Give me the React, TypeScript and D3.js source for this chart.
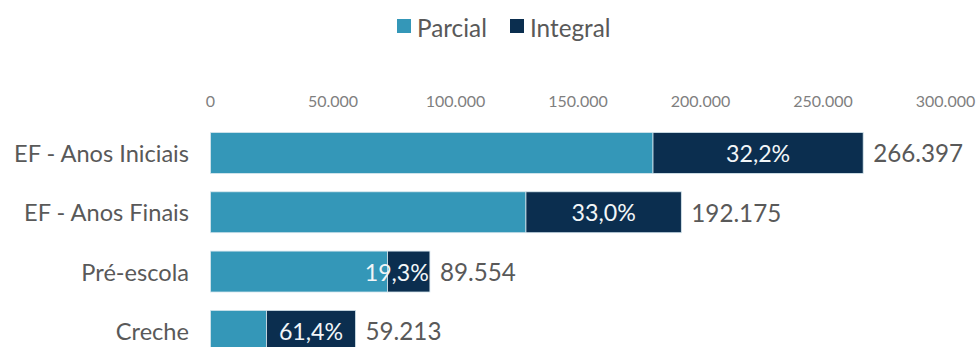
import React from "react";
import * as d3 from "d3";

const categories = ["EF - Anos Iniciais", "EF - Anos Finais", "Pré-escola", "Creche"];
const parcial = [180617, 128757, 72270, 22856];
const integral = [85780, 63418, 17284, 36357];
const tickValues = [0, 50000, 100000, 150000, 200000, 250000, 300000];
const seriesNames = ["Parcial", "Integral"];
const colors = ["#3497b8", "#0b2e4f"];

const fmtInt = (v: number) => d3.format(",")(v).replace(/,/g, ".");
const fmtPct = (v: number) => d3.format(".1%")(v).replace(".", ",");

export default function App() {
  const W = 980, H = 347;
  const x = d3.scaleLinear().domain([0, 300000]).range([210.5, 945.5]);
  const y = d3
    .scaleBand<string>()
    .domain(categories)
    .range([123.3, 123.3 + 4 * 59.3])
    .paddingInner(0.31)
    .paddingOuter(0.155);
  const bw = y.bandwidth();
  const font = "Lato, 'Open Sans', sans-serif";
  const fs = 23.6;

  return (
    <svg
      width={W}
      height={H}
      style={{ position: "absolute", left: 0, top: 0, background: "#fff" }}
      fontFamily={font}
    >
      {/* legend */}
      <g>
        <rect x={397} y={19} width={14} height={14} fill={colors[0]} />
        <text x={417} y={27} dominantBaseline="central" fontSize={24.3} fill="#595959">
          {seriesNames[0]}
        </text>
        <rect x={510} y={19} width={14} height={14} fill={colors[1]} />
        <text x={530} y={27} dominantBaseline="central" fontSize={24.3} fill="#595959">
          {seriesNames[1]}
        </text>
      </g>
      {/* ticks */}
      {tickValues.map((t) => (
        <text
          key={t}
          x={x(t)}
          y={100}
          textAnchor="middle"
          dominantBaseline="central"
          fontSize={16}
          fill="#7f7f7f"
        >
          {fmtInt(t)}
        </text>
      ))}
      {categories.map((c, i) => {
        const y0 = y(c)!;
        const total = parcial[i] + integral[i];
        const x0 = x(0), x1 = x(parcial[i]), x2 = x(total);
        const segW = x2 - x1;
        const narrow = segW < 70;
        return (
          <g key={c}>
            <text
              x={189}
              y={y0 + bw / 2}
              textAnchor="end"
              dominantBaseline="central"
              fontSize={fs}
              fill="#595959"
            >
              {c}
            </text>
            <rect x={x0} y={y0} width={x1 - x0} height={bw} fill={colors[0]} stroke="#d6e6ee" strokeWidth={0.8} />
            <rect x={x1} y={y0} width={x2 - x1} height={bw} fill={colors[1]} stroke="#d6e6ee" strokeWidth={0.8} />
            <text
              x={narrow ? x2 - 1 : (x1 + x2) / 2}
              y={y0 + bw / 2}
              textAnchor={narrow ? "end" : "middle"}
              dominantBaseline="central"
              fontSize={23.2}
              fill="#f2f6f8"
            >
              {fmtPct(integral[i] / total)}
            </text>
            <text
              x={x2 + 10}
              y={y0 + bw / 2}
              dominantBaseline="central"
              fontSize={24.2}
              fill="#595959"
            >
              {fmtInt(total)}
            </text>
          </g>
        );
      })}
    </svg>
  );
}
